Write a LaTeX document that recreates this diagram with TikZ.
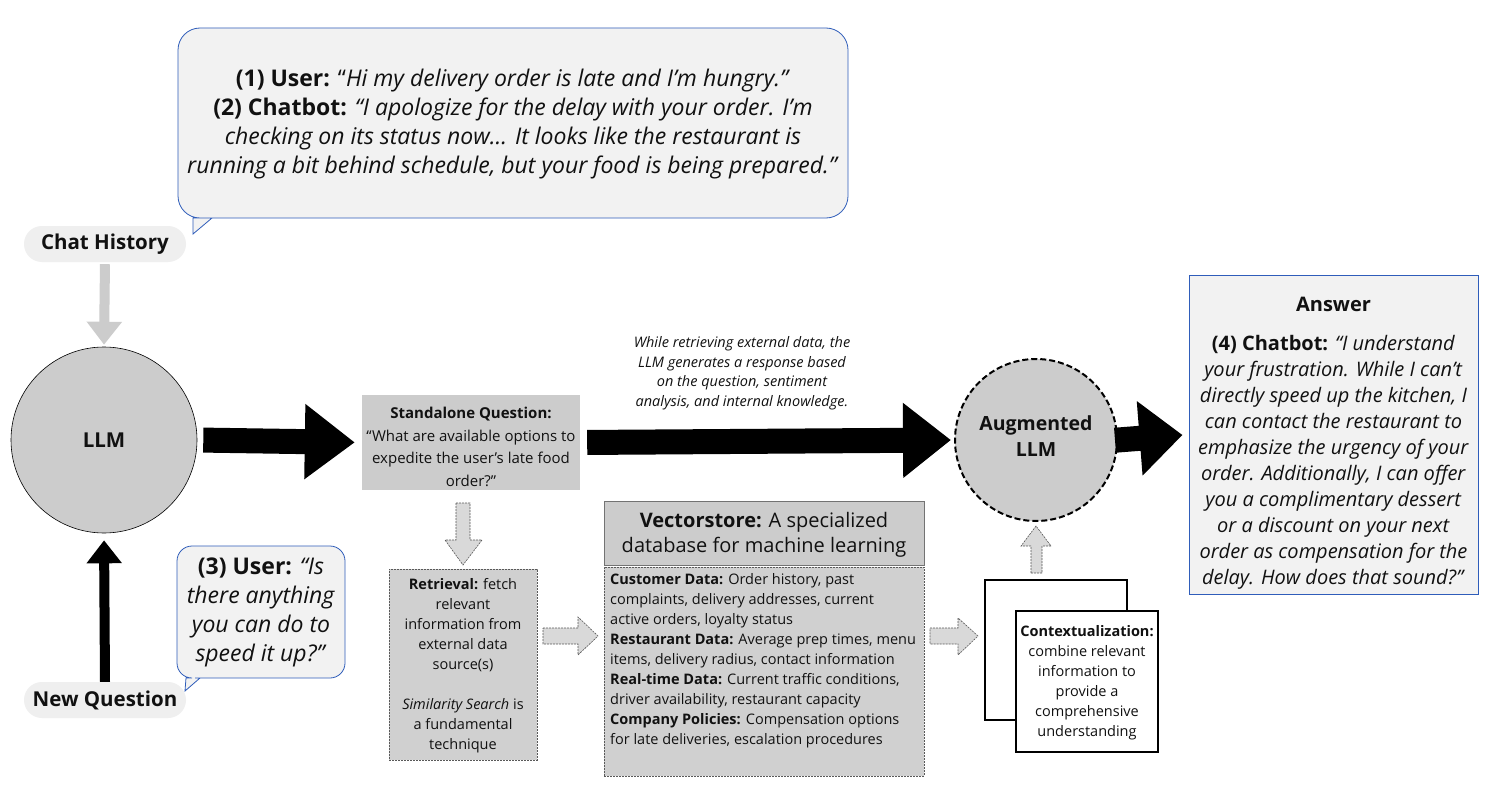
\documentclass[tikz,border=0pt]{standalone}
\usepackage{fontspec}
\setmainfont{Open Sans}
\usetikzlibrary{arrows.meta}
\definecolor{bubfill}{HTML}{F2F2F2}
\definecolor{bubline}{HTML}{2F5DBA}
\definecolor{pillc}{HTML}{EFEFEF}
\definecolor{grc}{HTML}{CCCCCC}
\definecolor{grd}{HTML}{D0D0D0}
\definecolor{gra}{HTML}{D9D9D9}
\definecolor{txt}{HTML}{111111}
\newcommand\myfs[2]{\fontsize{#1pt}{#2pt}\selectfont}
\begin{document}
\begin{tikzpicture}[x=1pt,y=-1pt,
  every node/.style={text=txt, inner sep=0pt},
  pillnode/.style={fill=pillc, rounded corners=18pt, minimum width=162pt, minimum height=36pt, font=\myfs{20.5}{24}\bfseries},
  bub/.style={fill=bubfill, draw=bubline, line width=0.8pt},
  bubtext/.style={align=center, font=\myfs{23}{29}},
  bigarrow/.style={line width=25pt, draw=black},
  hollow/.style={fill=gra, draw=black!65, line width=0.6pt, dash pattern=on 2pt off 1pt},
  graybox/.style={fill=grc},
  dbox/.style={fill=grd, draw=black!65, line width=0.6pt, dash pattern=on 2pt off 1pt},
  small/.style={font=\myfs{14.5}{20}}
]
\useasboundingbox (0,0) rectangle (1500,800);
\fill[white] (0,0) rectangle (1500,800);

% top bubble
\draw[bub] (200,218) [rounded corners=22pt] -- (848,218) -- (848,28) -- (178,28) -- (178,218) [sharp corners] -- (193,218) -- (193,234) -- (212,218) -- cycle;
\node[bubtext] (hist) at (513,124) {\textbf{(1) User:} “\textit{Hi my delivery order is late and I’m hungry.”}\\
\textbf{(2) Chatbot:} \textit{“I apologize for the delay with your order. I'm}\\
\textit{checking on its status now... It looks like the restaurant is}\\
\textit{running a bit behind schedule, but your food is being prepared.”}};

% pills
\node[pillnode] (ch) at (105,244) {Chat History};
\node[pillnode] (nq) at (105,700) {New Question};

% LLM circle
\node[circle, draw=black, line width=0.6pt, fill=grc, minimum size=186pt, font=\myfs{20.5}{24}\bfseries] (llm) at (104,440) {LLM};

\draw[line width=10pt, draw=grc, -{Triangle[width=34pt,length=23pt]}, shorten <=2pt, shorten >=2pt] (ch.south) -- (llm.north);
\draw[line width=10pt, draw=black, -{Triangle[width=34pt,length=23pt]}, shorten >=7pt] (nq.north) -- (llm.south);

% small bubble
\draw[bub] (195,678) [rounded corners=15pt] -- (345,678) -- (345,546) -- (177,546) -- (177,678) [sharp corners] -- (186,678) -- (185,691) -- (200,678) -- cycle;
\node[bubtext] (q3) at (261,612) {\textbf{(3) User:} \textit{“Is}\\\textit{there anything}\\\textit{you can do to}\\\textit{speed it up?”}};

% standalone question
\node[graybox, minimum width=218pt, minimum height=95pt] (sq) at (471,442.5) {};
\node[align=center, font=\myfs{15}{22.5}] (sqt) at (471,447) {\textbf{Standalone Question:}\\“What are available options to\\expedite the user's late food\\order?”};

\draw[bigarrow, -{Triangle[width=72pt,length=50pt]}, shorten <=6pt, shorten >=7pt] (llm.east) -- (sq.west);

% augmented LLM
\node[circle, draw=black, line width=2pt, dash pattern=on 6pt off 3pt, fill=grc, minimum size=162pt] (aug) at (1036,440) {};
\node[align=center, font=\myfs{19.5}{26}\bfseries] (augt) at (1036,436) {Augmented\\LLM};

\node[align=center, font=\myfs{14.5}{19.5}\itshape] (note) at (742,373) {While retrieving external data, the\\LLM generates a response based\\on the question, sentiment\\analysis, and internal knowledge.};

\draw[bigarrow, -{Triangle[width=72pt,length=48pt]}, shorten <=7pt, shorten >=3pt] (sq.east) -- (aug.west);

% answer
\node[fill=bubfill, draw=bubline, line width=1pt, minimum width=289pt, minimum height=319pt] (ans) at (1333.5,434.5) {};
\node[font=\myfs{20}{24}\bfseries] (anst) at (1333.5,304) {Answer};
\node[align=center, font=\myfs{20}{26}] (ansb) at (1333.5,462) {\textbf{(4) Chatbot:} \textit{“I understand}\\
\textit{your frustration. While I can't}\\
\textit{directly speed up the kitchen, I}\\
\textit{can contact the restaurant to}\\
\textit{emphasize the urgency of your}\\
\textit{order. Additionally, I can offer}\\
\textit{you a complimentary dessert}\\
\textit{or a discount on your next}\\
\textit{order as compensation for the}\\
\textit{delay. How does that sound?”}};

\draw[bigarrow, -{Triangle[width=72pt,length=43pt]}, shorten <=-3pt, shorten >=6pt] (aug.east) -- (ans.west);

% retrieval
\node[dbox, minimum width=148pt, minimum height=191pt] (ret) at (463,664.5) {};
\node[align=center, small] (rett) at (463,666) {\textbf{Retrieval:} fetch\\relevant\\information from\\external data\\source(s)\\[20pt]\textit{Similarity Search} is\\a fundamental\\technique};

% vectorstore
\node[fill=grc, draw=black!55, line width=0.8pt, minimum width=320pt, minimum height=64pt] (vh) at (764,533) {};
\node[align=center, font=\myfs{20}{25}] (vht) at (764,535) {\textbf{Vectorstore:} A specialized\\database for machine learning};
\node[dbox, minimum width=320pt, minimum height=209pt] (vb) at (764,671.5) {};
\node[align=left, anchor=north west, small] (vbt) at (610,573) {\textbf{Customer Data:} Order history, past\\complaints, delivery addresses, current\\active orders, loyalty status\\\textbf{Restaurant Data:} Average prep times, menu\\items, delivery radius, contact information\\\textbf{Real-time Data:} Current traffic conditions,\\driver availability, restaurant capacity\\\textbf{Company Policies:} Compensation options\\for late deliveries, escalation procedures};

% contextualization
\node[fill=white, draw=black, line width=1.2pt, minimum width=142pt, minimum height=140pt] (cb) at (1056,650) {};
\node[fill=white, draw=black, line width=1.2pt, minimum width=142pt, minimum height=141pt] (cf) at (1087,681.5) {};
\node[align=center, small] (cft) at (1087,683) {\textbf{Contextualization:}\\combine relevant\\information to\\provide a\\comprehensive\\understanding};

% hollow dashed arrows
\draw[hollow] (456,503) -- (470,503) -- (470,540) -- (482,540) -- (463,565) -- (445,540) -- (456,540) -- cycle;
\draw[hollow] (543,628) -- (578,628) -- (578,617) -- (598,636) -- (578,655) -- (578,644) -- (543,644) -- cycle;
\draw[hollow] (930,628) -- (958,628) -- (958,618) -- (978,636) -- (958,655) -- (958,644) -- (930,644) -- cycle;
\draw[hollow] (1031,573) -- (1042,573) -- (1042,546) -- (1051,546) -- (1036,526) -- (1021,546) -- (1031,546) -- cycle;
\end{tikzpicture}
\end{document}
